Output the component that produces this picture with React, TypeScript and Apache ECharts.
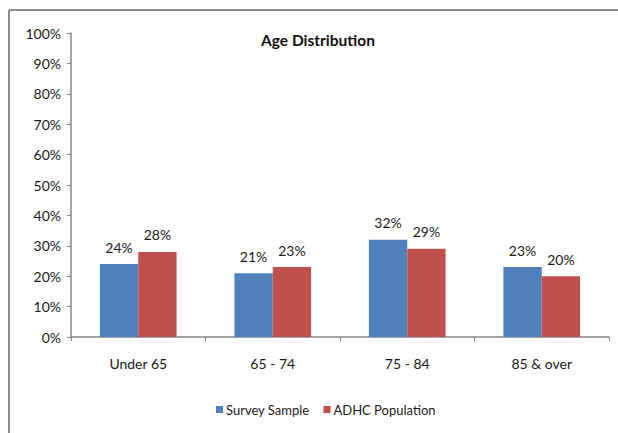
import React, { useEffect, useRef } from "react";
import * as echarts from "echarts";

const categories = ["Under 65", "65 - 74", "75 - 84", "85 & over"];
const surveySample = [24, 21, 32, 23];
const adhcPopulation = [28, 23, 29, 20];
const yTicks = { min: 0, max: 100, interval: 10 };

const FONT = "Lato, 'Open Sans', sans-serif";

export default function App() {
  const ref = useRef<HTMLDivElement>(null);

  useEffect(() => {
    document.body.style.margin = "0";
    const chart = echarts.init(ref.current!, null, { renderer: "svg" });
    const labelStyle = {
      show: true,
      position: "top" as const,
      distance: 10,
      formatter: "{c}%",
      color: "#1a1a1a",
      fontFamily: FONT,
      fontSize: 14,
    };
    chart.setOption({
      animation: false,
      backgroundColor: "#ffffff",
      textStyle: { fontFamily: FONT },
      title: {
        text: "Age Distribution",
        left: 313,
        textAlign: "center",
        top: 27,
        textStyle: { fontFamily: FONT, fontWeight: "bold", fontSize: 15.5, color: "#111" },
      },
      legend: {
        bottom: 12,
        left: 211,
        icon: "rect",
        itemWidth: 7,
        itemHeight: 7,
        itemGap: 14,
        textStyle: { fontFamily: FONT, fontSize: 13, color: "#1a1a1a", padding: [0, 0, 0, -2] },
        data: ["Survey Sample", "ADHC Population"],
      },
      grid: { left: 71, right: 9, top: 33, bottom: 96, containLabel: false },
      xAxis: {
        type: "category",
        data: categories,
        axisLine: { lineStyle: { color: "#878787", width: 1.5 } },
        axisTick: { show: true, length: 4, lineStyle: { color: "#878787" } },
        axisLabel: { fontFamily: FONT, fontSize: 14, color: "#1a1a1a", margin: 19 },
      },
      yAxis: {
        type: "value",
        min: yTicks.min,
        max: yTicks.max,
        interval: yTicks.interval,
        axisLine: { show: true, lineStyle: { color: "#878787", width: 1.5 } },
        axisTick: { show: true, length: 4, lineStyle: { color: "#878787" } },
        splitLine: { show: false },
        axisLabel: {
          formatter: "{value}%",
          fontFamily: FONT,
          fontSize: 14,
          color: "#1a1a1a",
          margin: 10,
        },
      },
      series: [
        {
          name: "Survey Sample",
          type: "bar",
          data: surveySample,
          barGap: "0%",
          barCategoryGap: "43%",
          itemStyle: { color: "#4F81BD" },
          label: labelStyle,
        },
        {
          name: "ADHC Population",
          type: "bar",
          data: adhcPopulation,
          itemStyle: { color: "#C0504D" },
          label: labelStyle,
        },
      ],
      graphic: [
        {
          type: "line",
          shape: { x1: 9, y1: 10, x2: 618, y2: 10 },
          style: { stroke: "#8c8c8c", lineWidth: 2 },
        },
        {
          type: "line",
          shape: { x1: 9, y1: 10, x2: 9, y2: 433 },
          style: { stroke: "#8c8c8c", lineWidth: 2 },
        },
      ],
    });
    return () => chart.dispose();
  }, []);

  return <div ref={ref} style={{ width: 618, height: 433 }} />;
}
